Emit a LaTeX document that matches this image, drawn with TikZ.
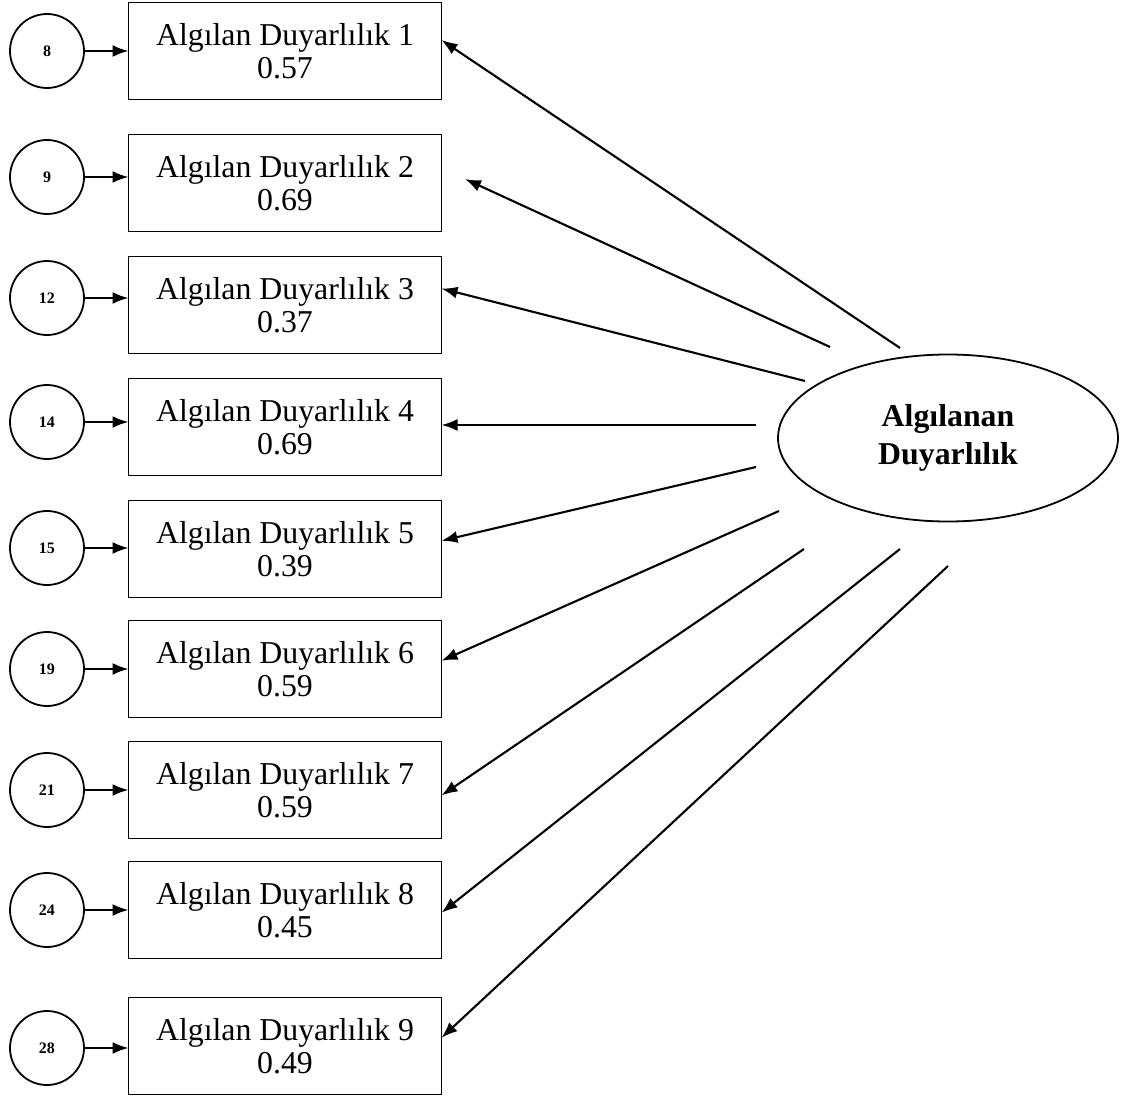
\documentclass[tikz,border=0pt]{standalone}
\usepackage{fontspec}
\setmainfont{Liberation Serif}
\usetikzlibrary{arrows.meta,shapes.geometric}

\tikzset{
  olcum/.style={draw, line width=0.9pt, minimum width=156.5pt, minimum height=48.5pt,
    inner sep=0pt, outer sep=0pt, align=center, font=\fontsize{15.9}{16.5}\selectfont},
  hata/.style={draw, circle, line width=0.9pt, minimum size=37pt, inner sep=0pt,
    outer sep=0pt, font=\fontsize{8}{8}\selectfont\bfseries},
  gizil/.style={draw, ellipse, line width=0.9pt, minimum width=170pt, minimum height=83.5pt,
    inner sep=0pt, outer sep=0pt, align=center, font=\fontsize{15.9}{19}\selectfont\bfseries}
}

\begin{document}
\begin{tikzpicture}[x=0.5pt, y=-0.5pt, >={Latex[length=8pt,width=6pt]}, line width=1.05pt]
\useasboundingbox (0,0) rectangle (1125,1097);

\node[olcum] (b1) at (285, 51)   {Algılan Duyarlılık 1\\0.57};
\node[olcum] (b2) at (285, 183)  {Algılan Duyarlılık 2\\0.69};
\node[olcum] (b3) at (285, 305)  {Algılan Duyarlılık 3\\0.37};
\node[olcum] (b4) at (285, 427)  {Algılan Duyarlılık 4\\0.69};
\node[olcum] (b5) at (285, 549)  {Algılan Duyarlılık 5\\0.39};
\node[olcum] (b6) at (285, 669)  {Algılan Duyarlılık 6\\0.59};
\node[olcum] (b7) at (285, 790)  {Algılan Duyarlılık 7\\0.59};
\node[olcum] (b8) at (285, 910)  {Algılan Duyarlılık 8\\0.45};
\node[olcum] (b9) at (285, 1046) {Algılan Duyarlılık 9\\0.49};

\node[hata] (e8)  at (47, 51)   {8};
\node[hata] (e9)  at (47, 177)  {9};
\node[hata] (e12) at (47, 298)  {12};
\node[hata] (e14) at (47, 422)  {14};
\node[hata] (e15) at (47, 548)  {15};
\node[hata] (e19) at (47, 669)  {19};
\node[hata] (e21) at (47, 790)  {21};
\node[hata] (e24) at (47, 910)  {24};
\node[hata] (e28) at (47, 1048) {28};

\node[gizil] (ad) at (948, 438) {Algılanan\\Duyarlılık};

% serbest uclar
\coordinate (s1) at (900, 348);
\coordinate (s2) at (830, 347);
\coordinate (s3) at (805, 381);
\coordinate (s4) at (756, 425);
\coordinate (s5) at (756, 467);
\coordinate (s6) at (779, 511);
\coordinate (s7) at (804, 549);
\coordinate (s8) at (900, 549);
\coordinate (s9) at (948, 566);
\coordinate (t2) at (465, 179);

\path[->] (e8)  edge (e8 -| b1.west);
\path[->] (e9)  edge (e9 -| b2.west);
\path[->] (e12) edge (e12 -| b3.west);
\path[->] (e14) edge (e14 -| b4.west);
\path[->] (e15) edge (e15 -| b5.west);
\path[->] (e19) edge (e19 -| b6.west);
\path[->] (e21) edge (e21 -| b7.west);
\path[->] (e24) edge (e24 -| b8.west);
\path[->] (e28) edge (e28 -| b9.west);

\path[->] (s1) edge (b1.4);
\path[->] (s2) edge (t2);
\path[->] (s3) edge (b3.6);
\path[->] (s4) edge (s4 -| b4.east);
\path[->] (s5) edge (b5.3);
\path[->] (s6) edge (b6.3);
\path[->] (s7) edge (b7.-2);
\path[->] (s8) edge (b8.-1);
\path[->] (s9) edge (b9.3);

\end{tikzpicture}
\end{document}
